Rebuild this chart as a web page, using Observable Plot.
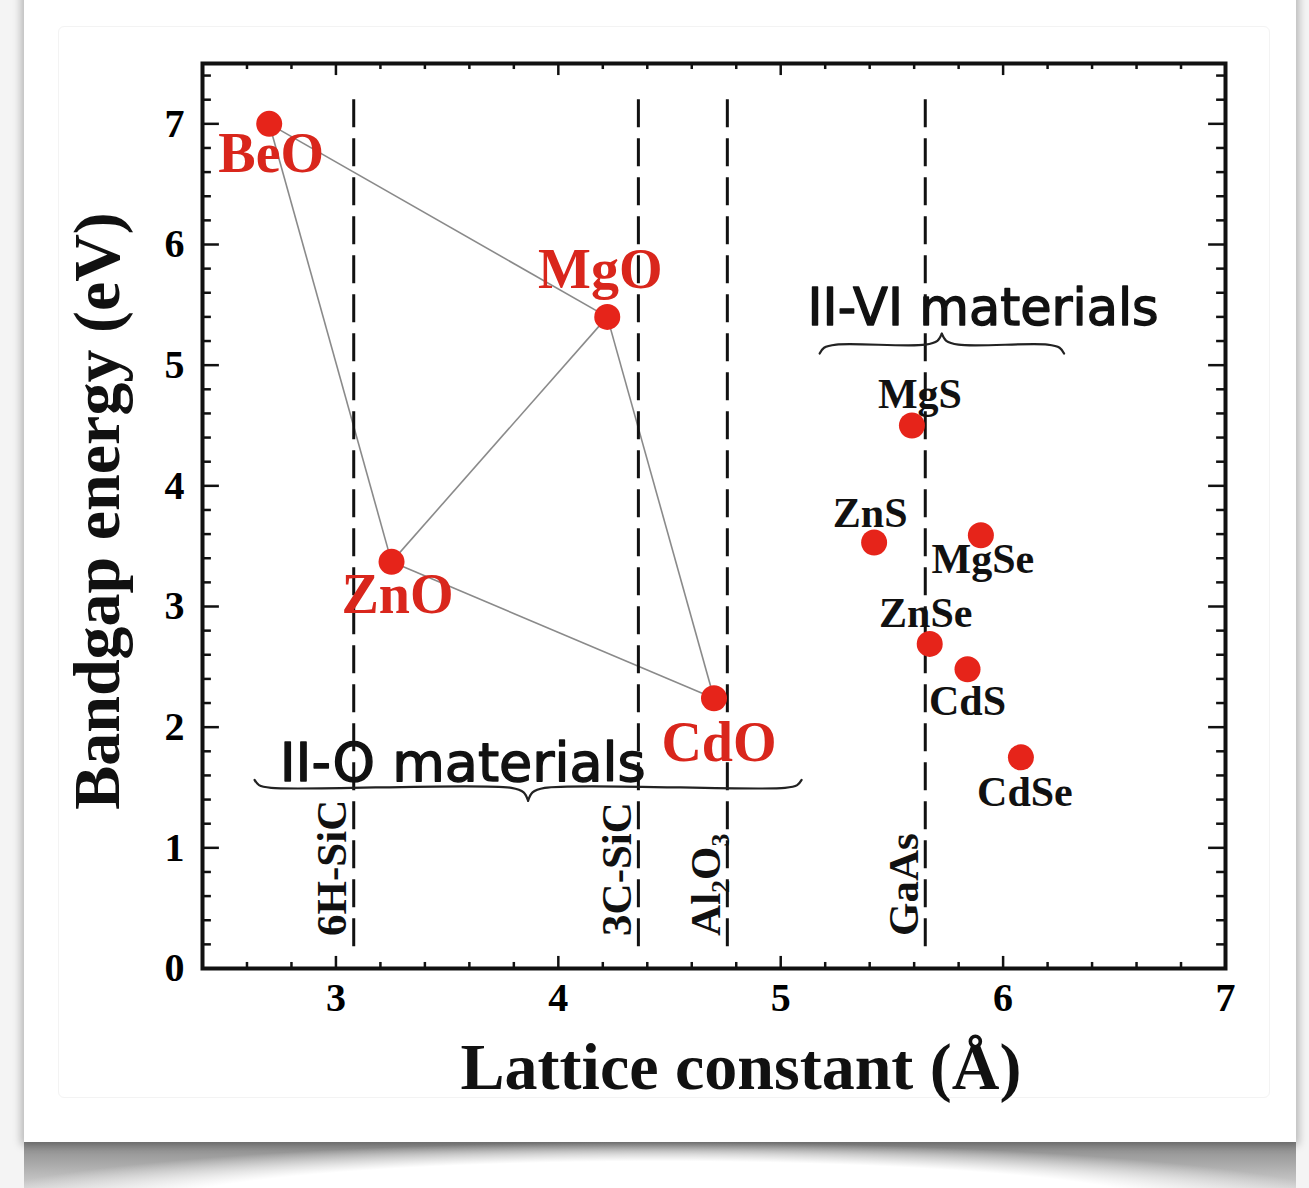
<!DOCTYPE html>
<html>
<head>
<meta charset="utf-8">
<script src="https://cdn.jsdelivr.net/npm/d3@7"></script>
<script src="https://cdn.jsdelivr.net/npm/@observablehq/plot@0.6"></script>
<style>
html, body { margin: 0; padding: 0; overflow: hidden; background: #fff; }
#wrap { position: relative; width: 1309px; height: 1188px; background: #f4f4f4; overflow: hidden; }
#card { position: absolute; left: 24px; top: -12px; width: 1272px; height: 1154px; background: #fff;
        box-shadow: 0 0 8px 3px rgba(0,0,0,0.25); }
#inner { position: absolute; left: 58px; top: 26px; width: 1210px; height: 1070px; border: 1px solid #f3f3f3; border-radius: 6px; }
#shadow { position: absolute; left: 24px; top: 1142px; width: 1272px; height: 46px;
          background: radial-gradient(ellipse 56% 150% at 50% 150%, #ffffff 72%, rgba(255,255,255,0) 100%),
                      linear-gradient(to bottom, #888, #cfcfcf); }
#chart { position: absolute; left: 0; top: 0; }
</style>
</head>
<body>
<div id="wrap">
  <div id="shadow"></div>
  <div id="card"></div>
  <div id="inner"></div>
  <div id="chart"></div>
</div>
<script>
// ---- data ----
const materials = ["BeO", "MgO", "ZnO", "CdO", "MgS", "ZnS", "MgSe", "ZnSe", "CdS", "CdSe"];
const latticeA  = [2.70, 4.22, 3.25, 4.70, 5.59, 5.42, 5.90, 5.67, 5.84, 6.08];
const bandgapEV = [7.00, 5.40, 3.37, 2.24, 4.50, 3.53, 3.59, 2.69, 2.48, 1.75];
const family    = ["II-O", "II-O", "II-O", "II-O", "II-VI", "II-VI", "II-VI", "II-VI", "II-VI", "II-VI"];

// tie lines between II-O compounds
const edgeFrom = ["BeO", "MgO", "CdO", "ZnO", "ZnO"];
const edgeTo   = ["MgO", "CdO", "ZnO", "BeO", "MgO"];

// substrates (vertical dashed lines)
const substrates = ["6H-SiC", "3C-SiC", "Al\u2082O\u2083", "GaAs"];
const substrateA = [3.08, 4.36, 4.76, 5.65];

// axis ticks
const xTicks = [3, 4, 5, 6, 7];
const yTicks = [0, 1, 2, 3, 4, 5, 6, 7];

// ---- layout (label offsets in px) ----
const labelDx = [2, -7, 6, 5, 8, -4, 2, -4, 0, 4];
const labelDy = [30, -47, 33, 45, -31, -29, 24, -30, 32, 35];

const pts = materials.map((m, i) => ({
  name: m, a: latticeA[i], eg: bandgapEV[i], fam: family[i], dx: labelDx[i], dy: labelDy[i]
}));
const byName = Object.fromEntries(pts.map(p => [p.name, p]));
const edges = edgeFrom.map((f, i) => ({ from: byName[f], to: byName[edgeTo[i]] }));
const subs = substrates.map((s, i) => ({ name: s, a: substrateA[i] }));

const xMinor = d3.range(2.6, 6.9, 0.2).map(v => +v.toFixed(1)).filter(v => Math.abs(v - Math.round(v)) > 1e-6);
const yMinor = d3.range(0.2, 7.5, 0.2).map(v => +v.toFixed(1)).filter(v => Math.abs(v - Math.round(v)) > 1e-6);
const xMajorIn = [3, 4, 5, 6];
const yMajorIn = [1, 2, 3, 4, 5, 6, 7];

// curly brace annotation shape
function brace(x1, x2, y, tip, cusp, id) {
  const xm = (x1 + x2) / 2, e = 0.075;
  const left = [[x1, y + tip], [x1 + 0.02, y + tip * 0.35], [x1 + e, y], [xm - e, y], [xm - 0.02, y + cusp * 0.35], [xm, y + cusp]];
  const right = left.map(([x, yy]) => [2 * xm - x, yy]);
  return [
    ...left.map(([x, yy]) => ({ x, y: yy, part: id + "L" })),
    ...right.map(([x, yy]) => ({ x, y: yy, part: id + "R" }))
  ];
}
const braces = [
  ...brace(5.175, 6.274, 5.17, -0.074, 0.091, "vi"),
  ...brace(2.634, 5.094, 1.497, 0.066, -0.107, "o")
];

const groupLabels = [
  { text: "II-VI materials", x: 5.91, y: 5.33, size: 51 },
  { text: "II-O materials", x: 3.57, y: 1.55, size: 54 }
];

const serif = "Liberation Serif, Times New Roman, serif";
const red = "#d9261c";

const labelMarks = pts.map(p => Plot.text([p], {
  x: "a", y: "eg", text: "name", dx: p.dx, dy: p.dy,
  fontSize: p.fam === "II-O" ? 56 : 42, fontWeight: "bold", fontFamily: serif,
  fill: p.fam === "II-O" ? red : "#111"
}));

const chart = Plot.plot({
  width: 1309,
  height: 1188,
  marginLeft: 202,
  marginRight: 84,
  marginTop: 63,
  marginBottom: 220,
  x: { domain: [2.4, 7] },
  y: { domain: [0, 7.5] },
  style: { background: "transparent", fontFamily: serif, overflow: "visible" },
  marks: [
    // tie lines
    Plot.link(edges, {
      x1: d => d.from.a, y1: d => d.from.eg, x2: d => d.to.a, y2: d => d.to.eg,
      stroke: "#8a8a8a", strokeWidth: 1.6
    }),
    // substrate dashed lines
    Plot.ruleX(subs, { x: "a", y1: 0.18, y2: 7.22, stroke: "#111", strokeWidth: 3, strokeDasharray: "28,11" }),
    Plot.text(subs, {
      x: "a", y: 0.27, text: "name", rotate: -90, textAnchor: "start", dx: -21,
      fontSize: 43, fontFamily: serif, fontWeight: "bold", fill: "#111"
    }),
    // braces
    Plot.line(braces, { x: "x", y: "y", z: "part", curve: "catmull-rom", stroke: "#222", strokeWidth: 2.2 }),
    Plot.text(groupLabels, {
      x: "x", y: "y", text: "text", fontSize: d => d.size, lineAnchor: "bottom",
      fontFamily: "DejaVu Sans, sans-serif", fill: "#111", stroke: "#111", strokeWidth: 1.4
    }),
    // points
    Plot.dot(pts, { x: "a", y: "eg", r: 13, fill: "#e6241a", stroke: "none" }),
    // labels
    ...labelMarks,
    // inward ticks: bottom / top
    Plot.ruleX(xMinor, { x: d => d, y1: 0, y2: 0.05, stroke: "#111", strokeWidth: 2.5 }),
    Plot.ruleX(xMajorIn, { x: d => d, y1: 0, y2: 0.1, stroke: "#111", strokeWidth: 2.5 }),
    Plot.ruleX(xMinor, { x: d => d, y1: 7.5, y2: 7.45, stroke: "#111", strokeWidth: 2.5 }),
    Plot.ruleX(xMajorIn, { x: d => d, y1: 7.5, y2: 7.4, stroke: "#111", strokeWidth: 2.5 }),
    // inward ticks: left / right
    Plot.ruleY(yMinor, { y: d => d, x1: 2.4, x2: 2.44, stroke: "#111", strokeWidth: 2.5 }),
    Plot.ruleY(yMajorIn, { y: d => d, x1: 2.4, x2: 2.476, stroke: "#111", strokeWidth: 2.5 }),
    Plot.ruleY(yMinor, { y: d => d, x1: 7, x2: 6.96, stroke: "#111", strokeWidth: 2.5 }),
    Plot.ruleY(yMajorIn, { y: d => d, x1: 7, x2: 6.924, stroke: "#111", strokeWidth: 2.5 }),
    Plot.frame({ stroke: "#111", strokeWidth: 4 }),
    // axes
    Plot.axisX(xTicks, { tickSize: 0, tickPadding: 14, tickFormat: d => String(d), fontSize: 40, fontWeight: "bold", fontFamily: serif, label: null }),
    Plot.axisY(yTicks, { tickSize: 0, tickPadding: 18, tickFormat: d => String(d), fontSize: 40, fontWeight: "bold", fontFamily: serif, label: null }),
    // axis titles
    Plot.text(["Lattice constant (\u00C5)"], {
      frameAnchor: "bottom", textAnchor: "middle", lineAnchor: "middle", dx: 27, dy: 99,
      fontSize: 66, fontWeight: "bold", fontFamily: serif, fill: "#111"
    }),
    Plot.text(["Bandgap energy (eV)"], {
      frameAnchor: "left", textAnchor: "middle", lineAnchor: "middle", dx: -105, dy: -5, rotate: -90,
      fontSize: 66, fontWeight: "bold", fontFamily: serif, fill: "#111"
    })
  ]
});
document.getElementById("chart").appendChild(chart);
</script>
</body>
</html>
